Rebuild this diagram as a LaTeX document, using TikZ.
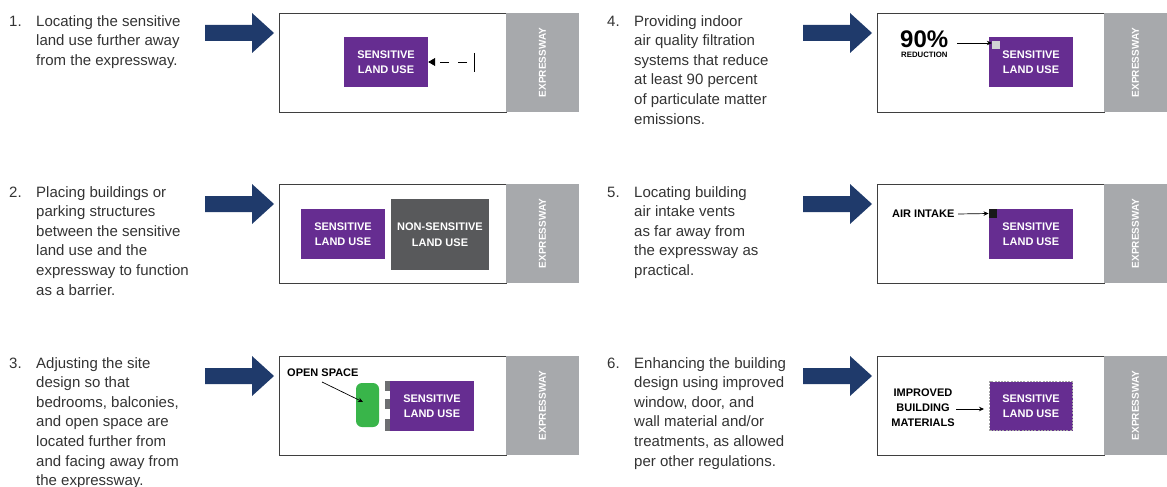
\documentclass[tikz,border=0pt]{standalone}
\usepackage{fontspec}
\setmainfont{Liberation Sans}
\usetikzlibrary{arrows.meta}
\definecolor{navy}{HTML}{1F3A6B}
\definecolor{purp}{HTML}{662D91}
\definecolor{dgray}{HTML}{58595B}
\definecolor{xgray}{HTML}{A7A9AC}
\definecolor{txt}{HTML}{333333}
\definecolor{bord}{HTML}{3F3F3F}
\definecolor{tabgray}{HTML}{6D6E71}
\definecolor{lgray}{HTML}{D1D3D4}
\definecolor{green}{HTML}{39B54A}
\tikzset{
  desc/.style={anchor=north west, inner sep=0pt, align=left, text=txt, font=\fontsize{15}{19.6}\selectfont},
  num/.style={anchor=north west, inner sep=0pt, text=txt, font=\fontsize{15}{19.6}\selectfont},
  panel/.style={draw=bord, line width=0.9pt, fill=white, inner sep=0pt},
  xway/.style={fill=xgray, inner sep=0pt},
  xlabel/.style={text=white, rotate=90, font=\bfseries\fontsize{10}{12}\selectfont},
  landbox/.style={fill=purp, text=white, inner sep=0pt, align=center, font=\bfseries\fontsize{11}{15.5}\selectfont},
  lbl/.style={text=black, inner sep=0pt, font=\bfseries\fontsize{11}{13}\selectfont},
  conn/.style={draw=black, line width=0.7pt, -{Stealth[length=5pt,width=4.5pt]}},
  bigarrow/.style={fill=navy},
}
\newcommand{\bigarr}[2]{% #1 = x of tail, #2 = y center
  \fill[bigarrow] (#1,#2-8) -- (#1+47,#2-8) -- (#1+47,#2-20) -- (#1+69,#2) -- (#1+47,#2+20) -- (#1+47,#2+8) -- (#1,#2+8) -- cycle;}
\begin{document}
\begin{tikzpicture}[x=1pt,y=-1pt]
\useasboundingbox (0,0) rectangle (1167,487);

% ---------------- left column texts ----------------
\node[num] (n1) at (9,15) {\vphantom{h}1.};
\node[desc] (t1) at (36,15) {Locating the sensitive\\land use further away\\from the expressway.};
\node[num] (n2) at (9,186) {\vphantom{h}2.};
\node[desc] (t2) at (36,186) {Placing buildings or\\parking structures\\between the sensitive\\land use and the\\expressway to function\\as a barrier.};
\node[num] (n3) at (9,357) {\vphantom{h}3.};
\node[desc] (t3) at (36,357) {Adjusting the site\\design so that\\bedrooms, balconies,\\and open space are\\located further from\\and facing away from\\the expressway.};

% ---------------- right column texts ----------------
\node[num] (n4) at (607,15) {\vphantom{h}4.};
\node[desc] (t4) at (634,15) {Providing indoor\\air quality filtration\\systems that reduce\\at least 90 percent\\of particulate matter\\emissions.};
\node[num] (n5) at (607,186) {\vphantom{h}5.};
\node[desc] (t5) at (634,186) {Locating building\\air intake vents\\as far away from\\the expressway as\\practical.};
\node[num] (n6) at (607,357) {\vphantom{h}6.};
\node[desc] (t6) at (634,357) {Enhancing the building\\design using improved\\window, door, and\\wall material and/or\\treatments, as allowed\\per other regulations.};

% ---------------- big arrows ----------------
\bigarr{205}{33}
\bigarr{205}{204}
\bigarr{205}{376}
\bigarr{803}{33}
\bigarr{803}{204}
\bigarr{803}{376}

% ---------------- panel 1 ----------------
\node[panel, minimum width=227pt, minimum height=99pt] (p1) at (392.5,62.5) {};
\node[xway, minimum width=73pt, minimum height=99pt] (x1) at (542.5,62.5) {};
\node[xlabel] (xl1) at (x1) {EXPRESSWAY};
\node[landbox, minimum width=84pt, minimum height=50pt] (s1) at (386,62) {SENSITIVE\\LAND USE};
\coordinate (bar1) at (474,62);
\draw[line width=0.7pt] (474,53) -- (474,72);
\draw[line width=0.8pt, dash pattern=on 9pt off 9pt, dash phase=11pt, -{Triangle[length=7pt,width=8pt]}] (bar1) -- (s1.east);

% ---------------- panel 2 ----------------
\node[panel, minimum width=227pt, minimum height=99pt] (p2) at (392.5,233.5) {};
\node[xway, minimum width=73pt, minimum height=99pt] (x2) at (542.5,233.5) {};
\node[xlabel] (xl2) at (x2) {EXPRESSWAY};
\node[landbox, minimum width=84pt, minimum height=50pt] (s2) at (343,234) {SENSITIVE\\LAND USE};
\node[landbox, fill=dgray, minimum width=98pt, minimum height=71pt] (ns2) at (440,234.5) {NON-SENSITIVE\\LAND USE};

% ---------------- panel 3 ----------------
\node[panel, minimum width=227pt, minimum height=99pt] (p3) at (392.5,405.5) {};
\node[xway, minimum width=73pt, minimum height=99pt] (x3) at (542.5,405.5) {};
\node[xlabel] (xl3) at (x3) {EXPRESSWAY};
\node[landbox, minimum width=84pt, minimum height=50pt] (s3) at (432,406) {SENSITIVE\\LAND USE};
\fill[tabgray] (385,381) rectangle (390,391);
\fill[tabgray] (385,399) rectangle (390,409);
\fill[tabgray] (385,419) rectangle (390,431);
\node[fill=green, rounded corners=6pt, minimum width=23pt, minimum height=44pt, inner sep=0pt] (g3) at (367.5,405) {};
\node[lbl, anchor=west] (os3) at (287,373) {OPEN SPACE};
\coordinate (ge3) at (363,402);
\draw[conn] (322,382) -- (ge3);

% ---------------- panel 4 ----------------
\node[panel, minimum width=227pt, minimum height=99pt] (p4) at (990.5,62.5) {};
\node[xway, minimum width=63pt, minimum height=99pt] (x4) at (1135.5,62.5) {};
\node[xlabel] (xl4) at (x4) {EXPRESSWAY};
\node[landbox, minimum width=84pt, minimum height=50pt] (s4) at (1031,62) {SENSITIVE\\LAND USE};
\node[fill=lgray, minimum size=8pt, inner sep=0pt] (f4) at (996,45) {};
\node[anchor=west, inner sep=0pt, text=black, font=\bfseries\fontsize{24}{26}\selectfont] (p90) at (900,39) {90\%};
\node[anchor=west, inner sep=0pt, text=black, font=\bfseries\fontsize{7.8}{9}\selectfont] (red4) at (901,55) {REDUCTION};
\draw[conn] (957,43) -- (f4.west |- 0,43);

% ---------------- panel 5 ----------------
\node[panel, minimum width=227pt, minimum height=99pt] (p5) at (990.5,233.5) {};
\node[xway, minimum width=63pt, minimum height=99pt] (x5) at (1135.5,233.5) {};
\node[xlabel] (xl5) at (x5) {EXPRESSWAY};
\node[landbox, minimum width=84pt, minimum height=50pt] (s5) at (1031,234) {SENSITIVE\\LAND USE};
\node[fill=black!90, minimum size=8.5pt, inner sep=0pt] (ai5) at (993,213.5) {};
\node[lbl, anchor=west] (lai5) at (892,214) {AIR INTAKE};
\draw[conn] (958,214) -- (ai5.west);

% ---------------- panel 6 ----------------
\node[panel, minimum width=227pt, minimum height=99pt] (p6) at (990.5,405.5) {};
\node[xway, minimum width=63pt, minimum height=99pt] (x6) at (1135.5,405.5) {};
\node[xlabel] (xl6) at (x6) {EXPRESSWAY};
\node[landbox, draw=gray!70, dash pattern=on 2pt off 1.2pt, line width=1.4pt, minimum width=83pt, minimum height=49pt] (s6) at (1031,406) {SENSITIVE\\LAND USE};
\node[lbl, align=center, font=\bfseries\fontsize{11}{15}\selectfont] (im6) at (923,408) {IMPROVED\\BUILDING\\MATERIALS};
\draw[conn] (956,409) -- (984,409);
\end{tikzpicture}
\end{document}
